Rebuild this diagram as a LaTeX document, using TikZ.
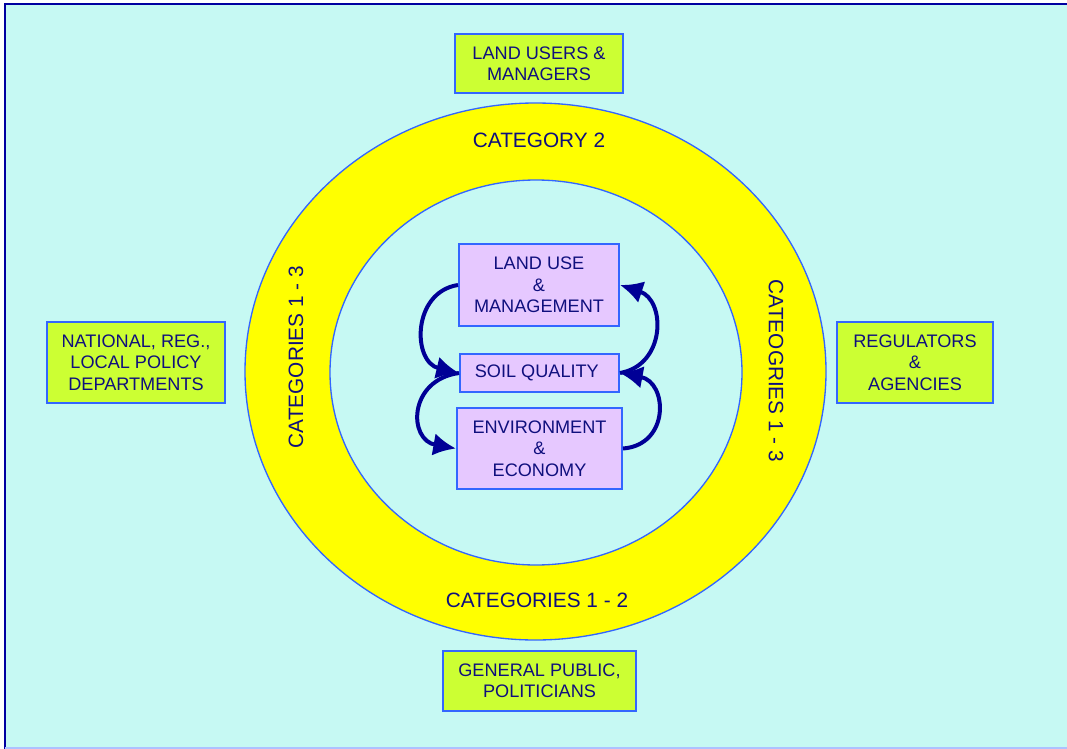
\documentclass[tikz,border=0pt]{standalone}
\usepackage{fontspec}
\setmainfont{Liberation Sans}
\usepackage{tikz}
\usetikzlibrary{arrows.meta}
\usepackage{xcolor}

\definecolor{bgcyan}{RGB}{198,249,243}
\definecolor{framenavy}{RGB}{0,0,160}
\definecolor{edgeblue}{RGB}{51,102,255}
\definecolor{txtnavy}{RGB}{15,15,125}
\definecolor{arrownavy}{RGB}{0,0,150}
\definecolor{ringyellow}{RGB}{255,255,0}
\definecolor{grpgreen}{RGB}{204,255,51}
\definecolor{corelilac}{RGB}{230,200,255}

\begin{document}
\begin{tikzpicture}[x=0.75pt, y=-0.75pt,
  every node/.style={text=txtnavy, font=\fontsize{13.6}{16}\selectfont, align=center, inner sep=0pt},
  ringlabel/.style={font=\fontsize{15.6}{18}\selectfont},
  grpbox/.style={draw=edgeblue, fill=grpgreen, line width=1.5pt},
  corebox/.style={draw=edgeblue, fill=corelilac, line width=1.5pt},
  feedback/.style={draw=arrownavy, line width=3pt, -{Latex[length=17pt,width=17pt]}}]
  \useasboundingbox (0,0) rectangle (1067,749);
  % frame
  \fill[white] (0,0) rectangle (1067,749);
  \fill[bgcyan] (5,4) rectangle (1067,748);
  \draw[framenavy, line width=2pt] (5,749) -- (5,4) -- (1067,4);
  \draw[edgeblue!40, line width=1pt] (5,748) -- (1067,748);
  % rings
  \draw[edgeblue, fill=ringyellow, line width=1pt] (535.5,371.5) ellipse [x radius=290.5, y radius=268.5];
  \draw[edgeblue, fill=bgcyan, line width=1pt] (536,372.5) ellipse [x radius=206, y radius=192.5];
  \node[ringlabel] (cat2) at (539,140) {CATEGORY 2};
  \node[ringlabel] (cat12) at (537,600) {CATEGORIES 1 - 2};
  \node[ringlabel, rotate=90] (cat13l) at (296,357) {CATEGORIES 1 - 3};
  \node[ringlabel, rotate=-90] (cat13r) at (776,371) {CATEOGRIES 1 - 3};
  % outer groups
  \node[grpbox, minimum width=126pt, minimum height=44.25pt] (users) at (539,63.5) {LAND USERS \&\\MANAGERS};
  \node[grpbox, minimum width=133.5pt, minimum height=60.75pt] (policy) at (136,362.5) {NATIONAL, REG.,\\LOCAL POLICY\\DEPARTMENTS};
  \node[grpbox, minimum width=117pt, minimum height=60.75pt] (regs) at (915,362.5) {REGULATORS\\\&\\AGENCIES};
  \node[grpbox, minimum width=144.75pt, minimum height=45pt] (public) at (539.5,681) {GENERAL PUBLIC,\\POLITICIANS};
  % core
  \node[corebox, minimum width=120pt, minimum height=61.5pt] (landuse) at (539,285) {LAND USE\\\&\\MANAGEMENT};
  \node[corebox, minimum width=119.25pt, minimum height=28.5pt] (soil) at (539.5,373) {SOIL QUALITY\hspace{4pt}};
  \node[corebox, minimum width=123.75pt, minimum height=60.75pt] (env) at (539.5,448.5) {ENVIRONMENT\\\&\\ECONOMY};
  % feedback loops
  \draw[feedback] (landuse.west) .. controls (412,292) and (412,362) .. (soil.west);
  \draw[feedback] (soil.west) .. controls (408,380) and (408,440) .. (env.west);
  \draw[feedback] (env.east) .. controls (670,445) and (668,382) .. (soil.east);
  \draw[feedback] (soil.east) .. controls (666,365) and (666,300) .. (landuse.east);
\end{tikzpicture}
\end{document}
